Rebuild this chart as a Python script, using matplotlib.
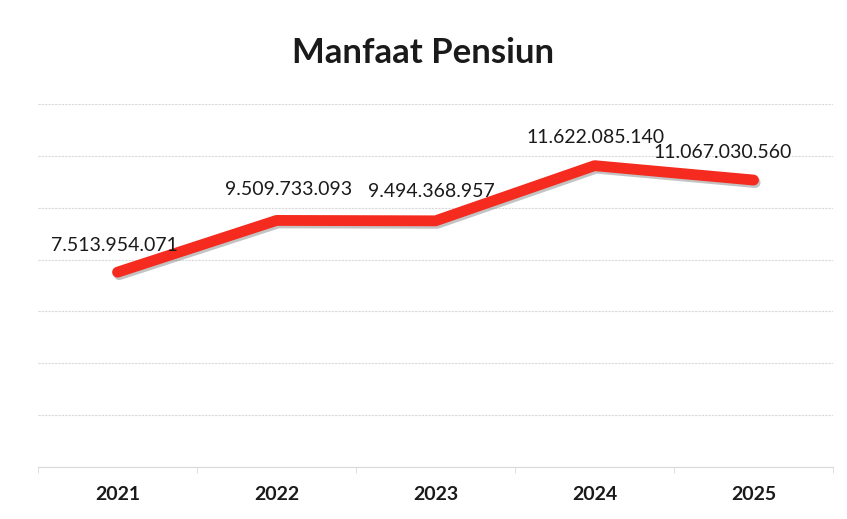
import matplotlib
matplotlib.use('Agg')
import matplotlib.pyplot as plt
import matplotlib.patheffects as pe

# data
years = ['2021', '2022', '2023', '2024', '2025']
values = [7513954071, 9509733093, 9494368957, 11622085140, 11067030560]
value_labels = ['7.513.954.071', '9.509.733.093', '9.494.368.957', '11.622.085.140', '11.067.030.560']

# label nudges in points (dx, dy)
label_offsets = [(-2, 19), (9, 22), (-3, 21), (1, 20), (-22, 20)]

plt.rcParams['font.family'] = ['Lato', 'DejaVu Sans']

fig = plt.figure(figsize=(8.47, 5.19), dpi=100)
ax = fig.add_axes([0.0449, 0.1002, 0.9386, 0.6994])

x = list(range(len(years)))
ax.plot(x, values, color='#f42b1e', linewidth=7.8, solid_capstyle='round',
        solid_joinstyle='round', zorder=3,
        path_effects=[pe.SimpleLineShadow(offset=(1.2, -1.8), shadow_color='#7a7a7a', alpha=0.45),
                      pe.Normal()])

for i, (v, lab) in enumerate(zip(values, value_labels)):
    dx, dy = label_offsets[i]
    ax.annotate(lab, (x[i], v), xytext=(dx, dy), textcoords='offset points',
                ha='center', va='center', fontsize=14, color='#1a1a1a')

ax.set_xlim(-0.5, len(years) - 0.5)
ax.set_ylim(0, 14e9)
ax.set_yticks([i * 2e9 for i in range(8)])
ax.yaxis.grid(True, color='#d9d9d9', linewidth=0.8, linestyle=(0, (2, 1)))
ax.set_axisbelow(True)
ax.tick_params(axis='y', left=False, labelleft=False)

ax.set_xticks(x)
ax.set_xticklabels(years, fontsize=14, fontweight='bold', color='#1a1a1a')
ax.set_xticks([i + 0.5 for i in range(-1, len(years))], minor=True)
ax.tick_params(axis='x', which='major', length=0, pad=14)
ax.tick_params(axis='x', which='minor', length=4, color='#d9d9d9')

for s in ['top', 'right', 'left']:
    ax.spines[s].set_visible(False)
ax.spines['bottom'].set_color('#d9d9d9')

fig.text(0.5, 0.898, 'Manfaat Pensiun', ha='center', va='center',
         fontsize=25, fontweight='bold', color='#1a1a1a')

fig.savefig('out.png', dpi=100, facecolor='white')
